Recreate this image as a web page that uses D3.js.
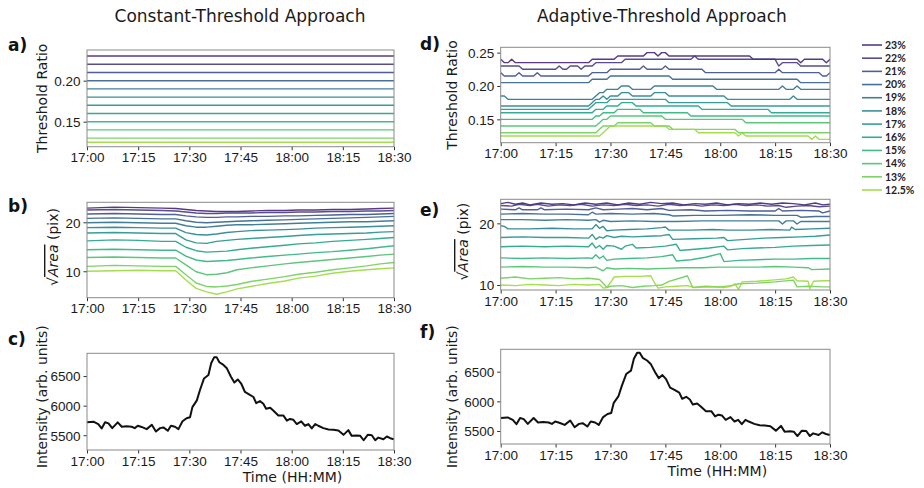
<!DOCTYPE html>
<html>
<head>
<meta charset="utf-8">
<script src="https://cdn.jsdelivr.net/npm/d3@7"></script>
<style>
  body { margin: 0; background: #fff; }
  svg { font-family: "DejaVu Sans", sans-serif; }
  .tick text { font-size: 13.5px; fill: #1a1a1a; }
  .tick line { stroke: #333; }
  .ylabel, .xlabel { font-size: 14px; fill: #1a1a1a; }
  .title { font-size: 17px; fill: #1a1a1a; }
  .panel-label { font-size: 17px; font-weight: bold; fill: #111; }
  .legend text { font-family: Lato, sans-serif; font-weight: bold; font-size: 10.5px; fill: #222; }
</style>
</head>
<body>
<div id="chart"></div>
<script>
// Global config
var TIME_TICKS = [0, 15, 30, 45, 60, 75, 90];
var TIME_LABELS = ["17:00", "17:15", "17:30", "17:45", "18:00", "18:15", "18:30"];
var THRESHOLDS = ["23%", "22%", "21%", "20%", "19%", "18%", "17%", "16%", "15%", "14%", "13%", "12.5%"];

// a) constant threshold ratio
var CONST_RATIO = [0.23, 0.22, 0.21, 0.20, 0.19, 0.18, 0.17, 0.16, 0.15, 0.14, 0.13, 0.125];

// b) sqrt(area), constant threshold (minutes after 17:00)
var AREA_TIMES = [0, 8, 15, 22, 26, 29, 32, 35, 38, 41, 44, 48, 53, 58, 62, 67, 72, 77, 82, 86, 90];
var AREA_CONST = [
  [22.9, 23.1, 23.0, 22.9, 22.8, 22.6, 22.4, 22.3, 22.2, 22.2, 22.2, 22.3, 22.4, 22.4, 22.5, 22.5, 22.6, 22.6, 22.7, 22.8, 22.9],
  [22.5, 22.6, 22.5, 22.4, 22.3, 22.1, 21.9, 21.8, 21.8, 21.9, 21.9, 21.9, 22.0, 22.0, 22.1, 22.1, 22.2, 22.2, 22.3, 22.3, 22.4],
  [21.7, 21.8, 21.7, 21.6, 21.6, 21.3, 21.1, 21.0, 21.0, 21.1, 21.1, 21.2, 21.2, 21.3, 21.3, 21.4, 21.5, 21.6, 21.6, 21.7, 21.8],
  [20.8, 20.9, 20.8, 20.7, 20.7, 20.3, 20.0, 19.9, 20.0, 20.1, 20.2, 20.3, 20.4, 20.5, 20.6, 20.7, 20.8, 20.9, 21.0, 21.1, 21.2],
  [19.9, 20.0, 19.9, 19.8, 19.8, 19.3, 19.0, 19.0, 19.2, 19.4, 19.5, 19.5, 19.6, 19.7, 19.8, 19.9, 20.0, 20.1, 20.1, 20.2, 20.3],
  [18.9, 19.0, 18.9, 18.8, 18.8, 17.9, 17.5, 17.4, 17.6, 17.9, 18.1, 18.3, 18.4, 18.5, 18.6, 18.8, 18.9, 19.0, 19.1, 19.2, 19.3],
  [17.8, 17.9, 17.8, 17.7, 17.7, 16.4, 15.8, 15.7, 16.1, 16.3, 16.5, 16.7, 16.9, 17.1, 17.3, 17.5, 17.6, 17.7, 17.8, 18.0, 18.1],
  [16.2, 16.4, 16.3, 16.1, 16.1, 14.9, 14.2, 13.9, 14.0, 14.1, 14.4, 14.7, 15.0, 15.3, 15.6, 15.8, 16.1, 16.3, 16.5, 16.7, 16.9],
  [14.4, 14.5, 14.4, 14.3, 14.3, 13.1, 12.3, 12.0, 12.1, 12.2, 12.4, 12.7, 13.0, 13.3, 13.5, 13.8, 14.0, 14.3, 14.6, 14.9, 15.2],
  [12.8, 12.9, 12.8, 12.7, 12.7, 11.3, 9.9, 9.3, 9.4, 9.7, 10.3, 10.7, 11.1, 11.5, 11.8, 12.1, 12.4, 12.7, 13.0, 13.3, 13.5],
  [11.0, 11.2, 11.1, 11.0, 11.0, 9.3, 7.6, 6.9, 6.8, 7.0, 7.3, 7.9, 8.4, 8.9, 9.4, 9.8, 10.3, 10.7, 11.1, 11.5, 11.8],
  [10.0, 10.1, 10.2, 10.1, 10.1, 8.2, 6.5, 5.8, 5.3, 5.8, 6.4, 6.9, 7.5, 8.0, 8.6, 9.0, 9.6, 10.0, 10.3, 10.5, 10.7]
];

// d) adaptive threshold ratio, [minute, ratio]
var RATIO_ADAPT = [
  [[0,.24],[1,.235],[2,.235],[3,.24],[4,.235],[24,.235],[25,.24],[31,.24],[32,.245],[39,.245],[40,.25],[42,.25],[43,.245],[44,.25],[45,.25],[46,.245],[68,.245],[69,.24],[81,.24],[82,.235],[83,.24],[88,.24],[89,.235],[90,.24]],
  [[0,.23],[5,.23],[6,.225],[15,.225],[16,.23],[17,.225],[18,.225],[19,.23],[21,.23],[22,.225],[23,.23],[25,.23],[26,.235],[33,.235],[34,.24],[52,.24],[53,.245],[54,.24],[75,.24],[76,.23],[77,.235],[81,.235],[82,.23],[90,.23]],
  [[0,.22],[1,.215],[4,.215],[5,.22],[6,.215],[9,.215],[10,.22],[11,.215],[24,.215],[25,.22],[29,.22],[30,.225],[38,.225],[39,.23],[40,.225],[44,.225],[45,.23],[46,.225],[55,.225],[56,.22],[75,.22],[76,.225],[77,.22],[87,.22],[88,.215],[89,.215],[90,.22]],
  [[0,.205],[24,.205],[25,.21],[29,.21],[30,.215],[46,.215],[47,.21],[81,.21],[82,.205],[90,.205]],
  [[0,.185],[1,.185],[2,.18],[25,.18],[26,.185],[27,.19],[28,.19],[29,.195],[32,.195],[33,.2],[35,.2],[36,.195],[41,.195],[42,.2],[58,.2],[59,.195],[76,.195],[77,.2],[78,.195],[80,.195],[81,.2],[82,.195],[90,.195]],
  [[0,.17],[24,.17],[25,.175],[26,.18],[27,.18],[28,.185],[29,.18],[30,.185],[32,.185],[33,.19],[35,.19],[36,.185],[41,.185],[42,.19],[45,.19],[46,.185],[61,.185],[62,.18],[79,.18],[80,.185],[81,.18],[90,.18]],
  [[0,.165],[24,.165],[25,.17],[26,.175],[29,.175],[30,.18],[45,.18],[46,.175],[62,.175],[63,.17],[90,.17]],
  [[0,.16],[25,.16],[26,.165],[28,.165],[29,.17],[32,.17],[33,.175],[36,.175],[37,.17],[54,.17],[55,.165],[73,.165],[74,.16],[90,.16]],
  [[0,.15],[25,.15],[26,.155],[27,.155],[28,.16],[31,.16],[32,.165],[38,.165],[39,.16],[51,.16],[52,.155],[90,.155]],
  [[0,.14],[26,.14],[27,.145],[28,.15],[29,.15],[30,.155],[44,.155],[45,.15],[66,.15],[67,.145],[90,.145]],
  [[0,.13],[26,.13],[27,.135],[28,.14],[31,.14],[32,.145],[41,.145],[42,.14],[46,.14],[47,.135],[64,.135],[65,.13],[90,.13]],
  [[0,.125],[27,.125],[28,.13],[29,.135],[30,.14],[45,.14],[46,.135],[53,.135],[54,.13],[64,.13],[65,.125],[66,.13],[67,.125],[84,.125],[85,.12],[86,.125],[87,.12],[90,.12]]
];

// e) sqrt(area), adaptive threshold, [minute, value]
var AREA_ADAPT = [
  [[0,23.2],[2,23.4],[4,23.1],[6,23.3],[8,23.0],[11,23.3],[14,23.1],[17,23.2],[20,23.0],[23,23.3],[26,23.1],[29,23.3],[32,23.0],[35,23.3],[38,23.1],[41,23.4],[44,23.2],[47,23.3],[50,23.0],[53,23.2],[56,23.1],[59,23.3],[62,23.0],[65,23.2],[68,23.1],[71,23.3],[74,23.1],[77,23.3],[80,23.2],[83,23.0],[86,23.3],[88,23.0],[90,23.1]],
  [[0,22.9],[3,22.8],[5,23.1],[8,22.9],[10,23.1],[13,22.8],[16,23.0],[19,22.9],[22,23.1],[25,22.8],[28,23.0],[31,22.9],[34,23.1],[37,22.9],[40,23.0],[43,22.8],[46,23.1],[49,22.9],[52,23.0],[55,22.8],[58,23.0],[61,22.9],[64,23.1],[67,22.9],[70,23.0],[73,22.8],[76,22.9],[78,22.6],[81,22.8],[84,22.9],[87,22.7],[90,22.8]],
  [[0,22.3],[4,22.2],[5,22.5],[6,22.2],[10,22.2],[11,22.5],[12,22.2],[18,22.3],[24,22.2],[26,22.5],[28,22.2],[32,22.3],[36,22.4],[40,22.2],[44,22.4],[46,22.1],[52,22.2],[56,22.0],[62,22.1],[68,22.0],[75,22.0],[76,22.4],[77,22.0],[82,22.1],[87,22.0],[88,21.7],[90,22.0]],
  [[0,21.5],[6,21.6],[12,21.5],[18,21.5],[24,21.4],[25,21.8],[26,21.5],[30,21.6],[36,21.5],[42,21.6],[46,21.4],[47,21.2],[53,21.3],[60,21.3],[68,21.4],[75,21.3],[81,21.3],[82,21.0],[86,21.1],[90,21.1]],
  [[0,20.6],[6,20.6],[12,20.5],[18,20.6],[24,20.5],[26,20.6],[27,20.2],[28,20.5],[30,20.3],[36,20.4],[42,20.3],[48,20.3],[55,20.4],[62,20.4],[70,20.4],[76,20.4],[77,19.9],[78,20.4],[80,20.4],[81,19.9],[82,20.3],[90,20.3]],
  [[0,19.6],[1,19.5],[2,19.1],[8,19.1],[14,19.2],[20,19.1],[25,19.1],[26,19.8],[27,19.2],[28,19.5],[29,18.8],[31,18.9],[35,19.0],[40,19.1],[44,19.3],[45,19.4],[46,18.9],[52,18.9],[58,19.0],[62,18.9],[68,18.9],[74,19.0],[79,18.9],[79.5,19.4],[80.5,19.0],[85,19.1],[90,19.2]],
  [[0,17.7],[6,17.8],[12,17.7],[18,17.7],[24,17.6],[25,18.2],[26,17.4],[27,17.8],[28,17.6],[29,18.0],[31,17.7],[33,17.9],[36,17.8],[40,17.9],[44,18.0],[46,18.2],[47,17.4],[53,17.5],[59,17.6],[61,17.7],[62,17.2],[67,17.4],[72,17.6],[77,17.7],[82,17.8],[86,17.9],[90,18.1]],
  [[0,16.2],[6,16.3],[12,16.2],[18,16.3],[24,16.2],[25,16.8],[26,16.0],[27,16.4],[28,15.8],[29,16.4],[31,16.3],[33,15.8],[34,16.3],[36,16.6],[37,16.0],[41,16.1],[45,16.3],[48,16.6],[49,15.6],[53,15.8],[57,16.0],[61,16.3],[62,15.7],[66,15.9],[70,16.0],[75,16.1],[80,16.3],[85,16.4],[90,16.5]],
  [[0,14.4],[6,14.3],[12,14.4],[18,14.3],[24,14.4],[25,14.3],[26,14.9],[27,14.3],[28,14.7],[29,14.0],[31,14.2],[35,14.3],[40,14.4],[44,14.6],[47,14.9],[48,13.9],[52,14.1],[56,14.5],[60,15.1],[61,13.8],[65,14.0],[70,14.1],[75,14.2],[80,14.2],[85,14.3],[90,14.3]],
  [[0,12.9],[6,13.0],[12,12.9],[18,12.9],[24,12.8],[26,12.9],[28,12.3],[29,12.8],[31,12.6],[35,12.7],[40,12.6],[45,12.7],[50,12.8],[55,12.8],[60,12.9],[65,12.9],[70,12.9],[75,13.0],[80,12.9],[84,12.8],[85,12.5],[90,12.6]],
  [[0,11.1],[4,11.3],[8,11.0],[12,11.1],[16,11.2],[20,11.0],[24,11.1],[27,10.9],[28,10.3],[29,9.6],[30,9.8],[33,9.9],[36,9.6],[39,9.8],[42,9.9],[44,10.0],[46,10.6],[50,11.3],[51,11.5],[52.5,9.6],[56,9.8],[60,9.7],[63,9.9],[65,10.2],[70,10.3],[75,10.5],[80,10.8],[81,9.7],[84,9.8],[88,9.7],[90,9.7]],
  [[0,10.0],[4,9.9],[8,10.1],[12,10.0],[16,9.9],[20,10.1],[24,10.0],[27,10.1],[28,9.5],[29,9.6],[30,10.4],[31,11.3],[34,11.4],[38,11.4],[41,11.5],[42,10.4],[43,9.5],[45,9.7],[48,9.8],[51,9.9],[53,9.6],[57,9.7],[61,9.6],[63,9.8],[64,10.2],[65,9.3],[66,10.5],[70,10.6],[74,10.8],[78,11.0],[80,11.3],[81,10.7],[84,10.6],[84.5,9.4],[85.5,10.6],[88,10.7],[90,10.7]]
];

// c), f) intensity, [minute, arb. units]
var INTENSITY = [
  [0,5718],[1.9,5729],[3.3,5689],[4.3,5615],[5.3,5718],[6.3,5700],[7.4,5620],[9,5718],[10.2,5643],[11.6,5650],
  [13.1,5643],[14,5620],[14.9,5660],[16,5640],[17.5,5603],[19,5677],[20.2,5563],[21.4,5620],[22.4,5632],[23.7,5575],
  [24.6,5660],[25.8,5643],[26.8,5603],[28,5735],[29.2,5786],[30.2,5803],[30.9,5975],[32.2,6089],[33.1,6260],[34.3,6460],
  [35.6,6517],[36.4,6717],[37.3,6820],[38,6820],[38.8,6734],[40,6688],[41,6631],[42.2,6489],[43.2,6391],[44.2,6443],
  [45.2,6374],[46.3,6231],[47.5,6192],[48.8,6146],[49.6,6043],[50.7,6077],[51.7,6032],[52.5,5946],[53.7,5963],[54.6,5917],
  [56.1,5832],[57.6,5832],[58.6,5746],[59.5,5775],[60.5,5760],[61.5,5689],[62.8,5735],[63.9,5660],[64.9,5689],[65.9,5615],
  [66.9,5689],[67.8,5660],[69.3,5620],[70.8,5598],[72.2,5592],[73.7,5580],[75.2,5506],[76.6,5586],[77.6,5489],[79.1,5494],
  [80.1,5489],[81.1,5415],[82.3,5506],[83.5,5500],[84.5,5415],[85.4,5460],[86.9,5432],[87.9,5478],[88.9,5450],[90,5432]
];

var COLORS = THRESHOLDS.map((d, i) => d3.interpolateViridis(0.1 + i * 0.068));

var makeTranslate = (x, y) => "translate(" + x + "," + y + ")";

var svg = d3.select("#chart").append("svg").attr("width", 924).attr("height", 488);

// Render one axes panel
var renderPanel = function(config) {
  var xScale = d3.scaleLinear().domain([0, 90]).range([config.left, config.right]);
  var yScale = d3.scaleLinear().domain(config.yDomain).range([config.bottom, config.top]);

  var panel = svg.append("g").attr("class", "panel");
  var clipId = "clip-" + config.id;
  panel.append("clipPath").attr("id", clipId)
    .append("rect")
    .attr("x", config.left).attr("y", config.top)
    .attr("width", config.right - config.left).attr("height", config.bottom - config.top);

  var line = d3.line().x(d => xScale(d[0])).y(d => yScale(d[1]));

  panel.append("g")
    .attr("clip-path", "url(#" + clipId + ")")
    .selectAll("path")
    .data(config.series)
    .enter()
    .append("path")
    .attr("d", line)
    .attr("fill", "none")
    .attr("stroke", (d, i) => config.colors[i])
    .attr("stroke-opacity", config.opacity || 1)
    .attr("stroke-width", config.strokeWidth)
    .attr("stroke-linejoin", "round");

  // x axis
  var xAxis = d3.axisBottom(xScale)
    .tickValues(TIME_TICKS)
    .tickFormat((d, i) => TIME_LABELS[i])
    .tickSize(3.5)
    .tickPadding(2.5);
  var xg = panel.append("g").attr("transform", makeTranslate(0, config.bottom)).call(xAxis);
  xg.select(".domain").remove();

  // y axis
  var yAxis = d3.axisLeft(yScale)
    .tickValues(config.yTicks)
    .tickFormat(config.yFormat)
    .tickSize(3.5)
    .tickPadding(3);
  var yg = panel.append("g").attr("transform", makeTranslate(config.left, 0)).call(yAxis);
  yg.select(".domain").remove();
  yg.selectAll(".tick text").attr("dy", "0.36em");

  // frame
  panel.append("rect")
    .attr("x", config.left).attr("y", config.top)
    .attr("width", config.right - config.left).attr("height", config.bottom - config.top)
    .attr("fill", "none").attr("stroke", "#8a8a8a").attr("stroke-width", 1);

  // y label
  var cy = (config.top + config.bottom) / 2 + (config.labelShift || 0);
  var label = panel.append("text")
    .attr("class", "ylabel")
    .attr("text-anchor", "middle")
    .attr("transform", makeTranslate(config.labelX, cy) + " rotate(-90)");
  if (config.sqrtLabel) {
    label.append("tspan").text("\u221A");
    label.append("tspan").attr("font-style", "italic").attr("text-decoration", "overline").text("Area");
    label.append("tspan").text(" (pix)");
  } else {
    label.text(config.yLabel);
  }

  if (config.xLabel) {
    panel.append("text")
      .attr("class", "xlabel")
      .attr("text-anchor", "middle")
      .attr("x", (config.left + config.right) / 2 + 52)
      .attr("y", config.bottom + 32)
      .text(config.xLabel);
  }

  svg.append("text")
    .attr("class", "panel-label")
    .attr("x", config.tagX).attr("y", config.tagY)
    .text(config.tag);
};

var toPairs = row => row.map((v, i) => [AREA_TIMES[i], v]);
var flat = v => [[0, v], [90, v]];

var LEFT = { left: 87, right: 394 };
var RIGHT = { left: 500.7, right: 830 };

renderPanel(Object.assign({ id: "a", top: 50, bottom: 146.7, yDomain: [0.1195, 0.2374], yTicks: [0.15, 0.20],
  yFormat: d3.format(".2f"), series: CONST_RATIO.map(flat), colors: COLORS, strokeWidth: 1.4, opacity: 0.9,
  labelX: 47, yLabel: "Threshold Ratio", tag: "a)", tagX: 8, tagY: 51 }, LEFT));

renderPanel(Object.assign({ id: "b", top: 202.3, bottom: 297.7, yDomain: [4.6, 24.08], yTicks: [10, 20],
  yFormat: d3.format("d"), series: AREA_CONST.map(toPairs), colors: COLORS, strokeWidth: 1.4, opacity: 0.9,
  labelX: 58, sqrtLabel: true, labelShift: -3, tag: "b)", tagX: 8, tagY: 212 }, LEFT));

renderPanel(Object.assign({ id: "c", top: 353.3, bottom: 450, yDomain: [5250, 6885], yTicks: [5500, 6000, 6500],
  yFormat: d3.format("d"), series: [INTENSITY], colors: ["#111"], strokeWidth: 2,
  labelX: 47, yLabel: "Intensity (arb. units)", labelShift: -5, xLabel: "Time (HH:MM)", tag: "c)", tagX: 8, tagY: 345 }, LEFT));

renderPanel(Object.assign({ id: "d", top: 47.3, bottom: 142.7, yDomain: [0.115, 0.258], yTicks: [0.15, 0.20, 0.25],
  yFormat: d3.format(".2f"), series: RATIO_ADAPT, colors: COLORS, strokeWidth: 1.4, opacity: 0.9,
  labelX: 457, yLabel: "Threshold Ratio", tag: "d)", tagX: 420, tagY: 50 }, RIGHT));

renderPanel(Object.assign({ id: "e", top: 199.3, bottom: 290, yDomain: [9.19, 23.9], yTicks: [10, 20],
  yFormat: d3.format("d"), series: AREA_ADAPT, colors: COLORS, strokeWidth: 1.4, opacity: 0.9,
  labelX: 468, sqrtLabel: true, labelShift: -3, tag: "e)", tagX: 420, tagY: 216 }, RIGHT));

renderPanel(Object.assign({ id: "f", top: 349.3, bottom: 444, yDomain: [5281, 6877], yTicks: [5500, 6000, 6500],
  yFormat: d3.format("d"), series: [INTENSITY], colors: ["#111"], strokeWidth: 2,
  labelX: 457, yLabel: "Intensity (arb. units)", xLabel: "Time (HH:MM)", tag: "f)", tagX: 420, tagY: 338 }, RIGHT));

// Titles
svg.append("text").attr("class", "title").attr("text-anchor", "middle")
  .attr("x", 240).attr("y", 22).text("Constant-Threshold Approach");
svg.append("text").attr("class", "title").attr("text-anchor", "middle")
  .attr("x", 662).attr("y", 22).text("Adaptive-Threshold Approach");

// Legend
var legendY = d3.scalePoint().domain(THRESHOLDS).range([45, 190]);
var legend = svg.append("g").attr("class", "legend")
  .selectAll("g")
  .data(THRESHOLDS)
  .enter()
  .append("g")
  .attr("transform", d => makeTranslate(862, legendY(d)));

legend.append("line")
  .attr("x1", 0).attr("x2", 20)
  .attr("stroke", (d, i) => COLORS[i])
  .attr("stroke-opacity", 0.9)
  .attr("stroke-width", 1.6);

legend.append("text")
  .attr("x", 23)
  .attr("dy", "0.35em")
  .text(d => d);
</script>
</body>
</html>
